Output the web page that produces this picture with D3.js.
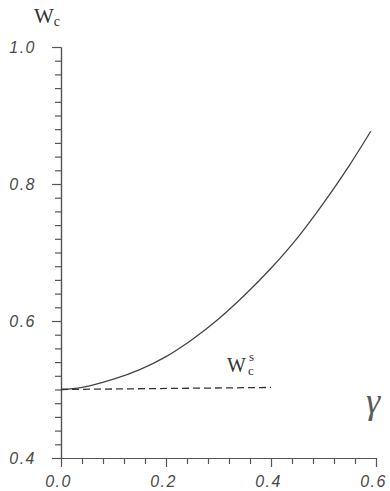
<!DOCTYPE html>
<html>
<head>
<meta charset="utf-8">
<script src="https://cdn.jsdelivr.net/npm/d3@7"></script>
<style>
  body { margin: 0; background: #fff; }
  svg { display: block; }
  .tick text { font-family: "Liberation Sans", Arial, sans-serif; font-style: italic; font-size: 16px; fill: #4a4a4a; letter-spacing: 1.5px; }
  .domain, .tick line { stroke: #555; stroke-width: 1.2; }
</style>
</head>
<body>
<div id="container"></div>
<script>
// curve W_c(gamma)
const gamma = [0, 0.04, 0.1, 0.15, 0.2, 0.25, 0.3, 0.35, 0.4, 0.45, 0.5, 0.55, 0.59];
const wc = [0.500, 0.503, 0.515, 0.529, 0.548, 0.573, 0.603, 0.638, 0.677, 0.721, 0.772, 0.828, 0.877];

// dashed W_c^s line
const gammaS = [0, 0.4];
const wcS = [0.500, 0.503];

const xMajor = [0, 0.2, 0.4, 0.6];
const xMinor = [0.04, 0.08, 0.12, 0.16, 0.24, 0.28, 0.32, 0.36, 0.44, 0.48, 0.52, 0.56];
const yMajor = [0.4, 0.6, 0.8, 1.0];
const yMinor = [0.42, 0.44, 0.46, 0.48, 0.5, 0.52, 0.54, 0.56, 0.58, 0.62, 0.64, 0.66, 0.68, 0.7,
  0.72, 0.74, 0.76, 0.78, 0.82, 0.84, 0.86, 0.88, 0.9, 0.92, 0.94, 0.96, 0.98];

const width = 390, height = 491;

const svg = d3.select("div#container")
    .append("svg")
    .attr("width", width)
    .attr("height", height);

const x = d3.scaleLinear().domain([0, 0.6]).range([61, 376]);
const y = d3.scaleLinear().domain([0.4, 1.0]).range([458, 47]);

// x axis: minor ticks, then major ticks with labels
svg.append("g")
    .attr("transform", `translate(0,${y(0.4)})`)
    .call(d3.axisBottom(x).tickValues(xMinor).tickSize(6).tickSizeOuter(0).tickFormat(""));
svg.append("g")
    .attr("transform", `translate(0,${y(0.4)})`)
    .call(d3.axisBottom(x).tickValues(xMajor).tickSize(9).tickSizeOuter(0).tickFormat(d3.format(".1f")))
    .call(g => g.selectAll(".tick text").attr("y", 18).attr("dx", "-3px"));

// y axis
svg.append("g")
    .attr("transform", `translate(${x(0)},0)`)
    .call(d3.axisLeft(y).tickValues(yMinor).tickSize(6).tickSizeOuter(0).tickFormat(""));
svg.append("g")
    .attr("transform", `translate(${x(0)},0)`)
    .call(d3.axisLeft(y).tickValues(yMajor).tickSize(9).tickSizeOuter(0).tickFormat(d3.format(".1f")))
    .call(g => g.selectAll(".tick text").attr("x", -25));

const line = d3.line()
    .x(d => x(d[0]))
    .y(d => y(d[1]))
    .curve(d3.curveCatmullRom);

svg.append("path")
    .datum(gamma.map((g, i) => [g, wc[i]]))
    .attr("d", line)
    .attr("fill", "none")
    .attr("stroke", "#444")
    .attr("stroke-width", 1.3);

svg.append("path")
    .datum(gammaS.map((g, i) => [g, wcS[i]]))
    .attr("d", d3.line().x(d => x(d[0])).y(d => y(d[1])))
    .attr("fill", "none")
    .attr("stroke", "#333")
    .attr("stroke-width", 1.3)
    .attr("stroke-dasharray", "7,4");

// labels
const serif = "'Liberation Serif', 'Times New Roman', serif";

const yl = svg.append("text")
    .attr("x", 34).attr("y", 23)
    .attr("font-family", serif).attr("font-size", 21).attr("fill", "#333");
yl.append("tspan").text("W");
yl.append("tspan").attr("font-size", 14).attr("dy", 3).text("c");

const sl = svg.append("text")
    .attr("x", 227).attr("y", 372)
    .attr("font-family", serif).attr("font-size", 20).attr("fill", "#333");
sl.append("tspan").text("W");
sl.append("tspan").attr("font-size", 13).attr("x", 248).attr("dy", 3).text("c");
sl.append("tspan").attr("font-size", 13).attr("x", 249).attr("dy", -14).text("s");

svg.append("text")
    .attr("x", 366).attr("y", 413)
    .attr("font-family", serif).attr("font-style", "italic")
    .attr("font-size", 36).attr("fill", "#5a5a5a")
    .text("γ");
</script>
</body>
</html>
